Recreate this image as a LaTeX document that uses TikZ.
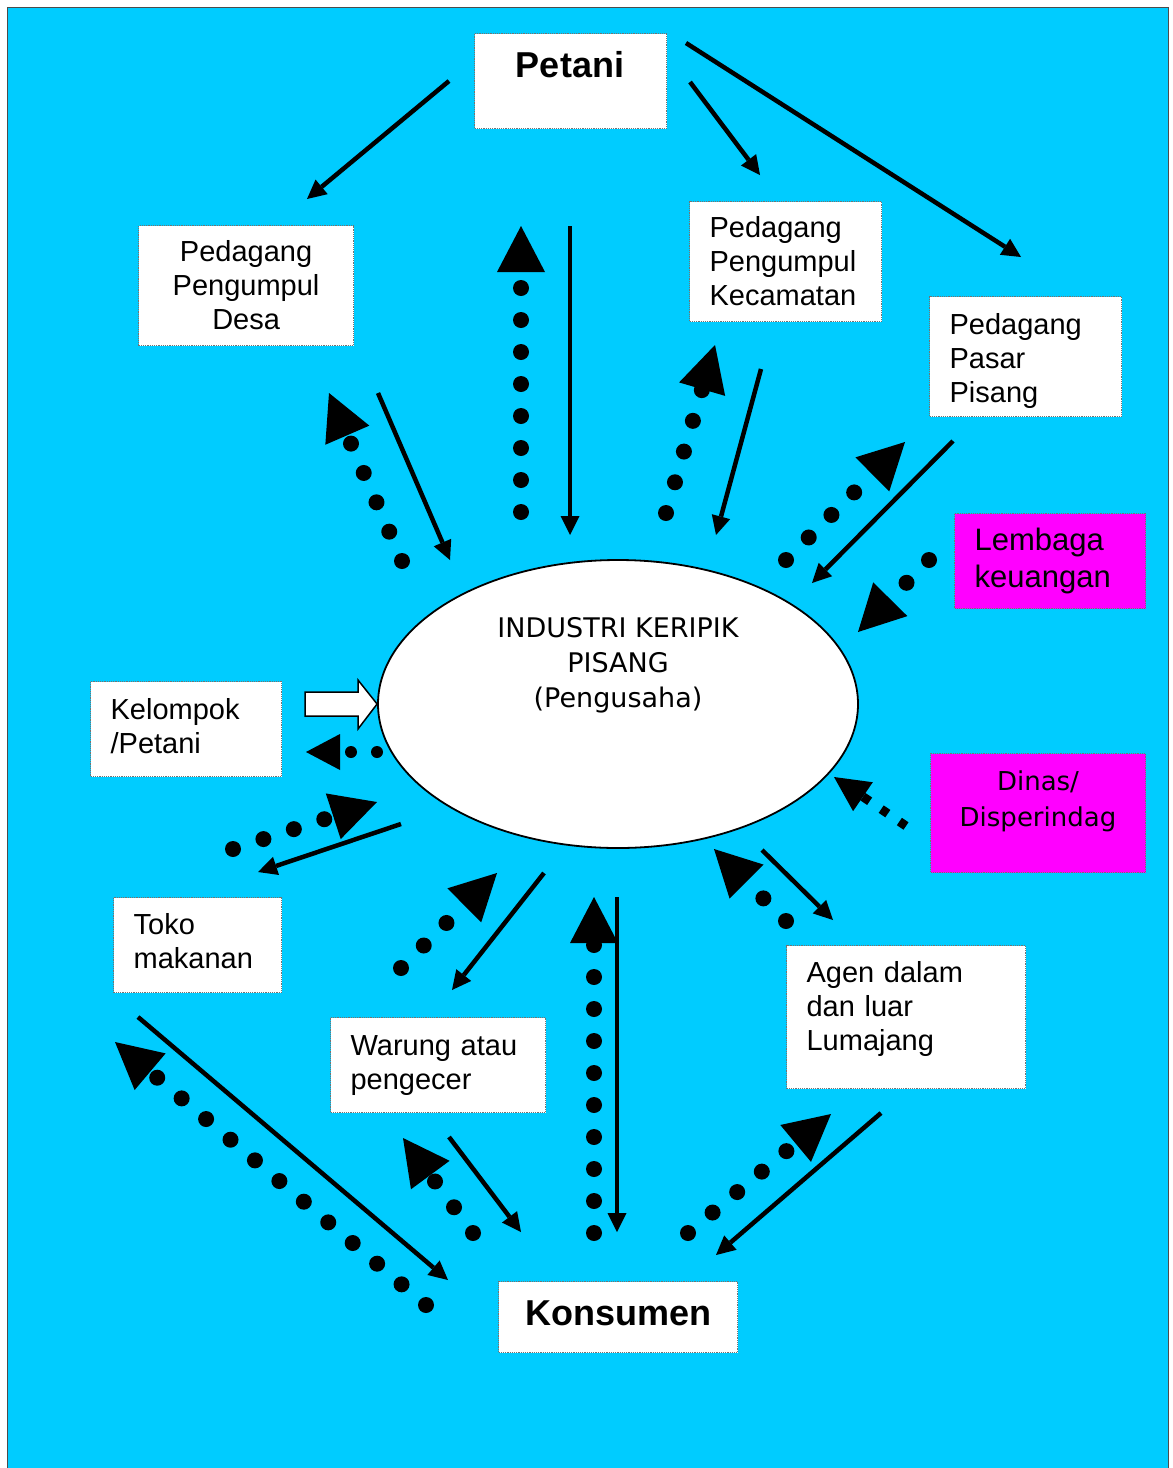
\documentclass[tikz,border=0pt]{standalone}
\usepackage{fontspec}
\setmainfont{Liberation Sans}
\newfontfamily\tahomafont{DejaVu Sans}
\usetikzlibrary{arrows.meta,shapes.geometric}
\definecolor{latarbiru}{HTML}{00CCFF}
\definecolor{ungu}{HTML}{FF00FF}

\begin{document}
\begin{tikzpicture}[x=1pt, y=-1pt,
        kotak/.style={draw=black!55, densely dotted, line width=1.2pt, fill=white, inner xsep=20pt, inner ysep=0pt, align=left, anchor=north west, font=\fontsize{29pt}{34pt}\selectfont},
        kotakungu/.style={kotak, fill=ungu},
        judul/.style={font=\bfseries\fontsize{36pt}{40pt}\selectfont, inner sep=0pt},
        panah/.style={line width=4.5pt, -{Triangle[length=19pt, width=19pt, line width=0pt]}},
        titik/.style={line width=16pt, line cap=round, dash pattern=on 0pt off 32pt, -{Triangle[length=46pt, width=48pt, line width=0pt]}},
        titikkecil/.style={line width=12pt, line cap=round, dash pattern=on 0pt off 26pt, -{Triangle[length=34pt, width=36pt, line width=0pt]}},
        putus/.style={line width=9pt, dash pattern=on 8pt off 14pt, -{Triangle[length=35pt, width=35pt, line width=0pt]}}]
                        \useasboundingbox (0,0) rectangle (1173,1468);
                        \fill[latarbiru] (7,7) rectangle (1168,1468);
                        \draw[black!70, line width=1pt] (7,1468) -- (7,7) -- (1168,7) -- (1168,1468);
                        
                        \node (petani) [kotak, text width=152pt, minimum height=95pt] at (474,33) {};
                        \node (petaniteks) [judul] at (570,65) {Petani};
                        \node (desa) [kotak, align=center, text width=175pt, minimum height=120pt] at (138,225) {Pedagang\\Pengumpul\\Desa};
                        \node (kecamatan) [kotak, text width=152pt, minimum height=120pt] at (689,201) {Pedagang\\Pengumpul\\Kecamatan};
                        \node (pasar) [kotak, text width=152pt, minimum height=120pt, text height=29pt] at (929,296) {Pedagang\\Pasar\\Pisang};
                        \node (lembaga) [kotakungu, text width=151pt, minimum height=95pt, font=\fontsize{31pt}{37pt}\selectfont] at (954,513) {Lembaga\\keuangan};
                        \node (dinas) [kotakungu, text width=175pt, minimum height=119pt] at (930,753) {};
                        \node (dinasteks) [font=\tahomafont\fontsize{26pt}{36pt}\selectfont, align=center, inner sep=0pt] at (1038,801) {Dinas/\\Disperindag};
                        \node (kelompok) [kotak, text width=151pt, minimum height=95pt, text height=15pt] at (90,681) {Kelompok\\/Petani};
                        \node (toko) [kotak, text width=128pt, minimum height=95pt, text height=13pt] at (113,897) {Toko\\makanan};
                        \node (warung) [kotak, text width=175pt, minimum height=95pt] at (330,1017) {Warung atau\\pengecer};
                        \node (agen) [kotak, text width=199pt, minimum height=143pt, text height=5pt] at (786,945) {Agen dalam\\dan luar\\Lumajang};
                        \node (konsumen) [kotak, align=center, text width=199pt, minimum height=71pt, text depth=8pt, font=\bfseries\fontsize{36pt}{40pt}\selectfont] at (498,1281) {Konsumen};
                        
                        \node (industri) [draw, ellipse, fill=white, line width=1.8pt, minimum width=480pt, minimum height=288pt] at (618,704) {};
                        \node (industriteks) [font=\tahomafont\fontsize{27pt}{35pt}\selectfont, align=center, inner sep=0pt] at (618,665) {INDUSTRI KERIPIK\\PISANG\\(Pengusaha)};
                        
                        \coordinate (pdA) at (449,81);   \coordinate (pdB) at (307,199);
                        \coordinate (pkA) at (690,82);   \coordinate (pkB) at (760,175);
                        \coordinate (ppA) at (686,43);   \coordinate (ppB) at (1021,257);
                        \coordinate (tsA) at (570,226);  \coordinate (tsB) at (570,535);
                        \coordinate (ttA) at (521,512);  \coordinate (ttB) at (521,226);
                        \coordinate (dsA) at (378,393);  \coordinate (dsB) at (450,560);
                        \coordinate (dtA) at (402,561);  \coordinate (dtB) at (329,393);
                        \coordinate (ksA) at (761,369);  \coordinate (ksB) at (716,535);
                        \coordinate (ktA) at (666,513);  \coordinate (ktB) at (715,345);
                        \coordinate (psA) at (953,441);  \coordinate (psB) at (812,583);
                        \coordinate (ptA) at (786,560);  \coordinate (ptB) at (905,442);
                        \coordinate (ltA) at (929,560);  \coordinate (ltB) at (858,632);
                        \coordinate (kdA) at (377,752);  \coordinate (kdB) at (306,752);
                        \coordinate (osA) at (401,824);  \coordinate (osB) at (258,872);
                        \coordinate (otA) at (233,849);  \coordinate (otB) at (377,802);
                        \coordinate (wsA) at (544,873);  \coordinate (wsB) at (452,990);
                        \coordinate (wtA) at (401,968);  \coordinate (wtB) at (497,873);
                        \coordinate (bsA) at (617,897);  \coordinate (bsB) at (617,1232);
                        \coordinate (btA) at (594,1233); \coordinate (btB) at (594,897);
                        \coordinate (asA) at (762,850);  \coordinate (asB) at (833,920);
                        \coordinate (atA) at (786,921);  \coordinate (atB) at (714,849);
                        \coordinate (diA) at (906,826);  \coordinate (diB) at (834,777);
                        \coordinate (okA) at (138,1017); \coordinate (okB) at (448,1280);
                        \coordinate (otkA) at (426,1305); \coordinate (otkB) at (115,1042);
                        \coordinate (wkA) at (449,1137); \coordinate (wkB) at (521,1232);
                        \coordinate (wtkA) at (473,1233); \coordinate (wtkB) at (403,1138);
                        \coordinate (akA) at (881,1113); \coordinate (akB) at (716,1255);
                        \coordinate (atkA) at (688,1233); \coordinate (atkB) at (831,1114);
                        
                        \draw[panah] (pdA) -- (pdB);
                        \draw[panah] (pkA) -- (pkB);
                        \draw[panah] (ppA) -- (ppB);
                        \draw[panah] (tsA) -- (tsB);
                        \draw[titik] (ttA) -- (ttB);
                        \draw[panah] (dsA) -- (dsB);
                        \draw[titik] (dtA) -- (dtB);
                        \draw[panah] (ksA) -- (ksB);
                        \draw[titik] (ktA) -- (ktB);
                        \draw[panah] (psA) -- (psB);
                        \draw[titik] (ptA) -- (ptB);
                        \draw[titik] (ltA) -- (ltB);
                        
                        \draw[line width=1.5pt, fill=white, line join=miter] (305,692) -- (358,692) -- (358,680) -- (industri.west) -- (358,729) -- (358,716) -- (305,716) -- cycle;
                        \draw[titikkecil] (kdA) -- (kdB);
                        \draw[panah] (osA) -- (osB);
                        \draw[titik] (otA) -- (otB);
                        \draw[panah] (wsA) -- (wsB);
                        \draw[titik] (wtA) -- (wtB);
                        \draw[panah] (bsA) -- (bsB);
                        \draw[titik] (btA) -- (btB);
                        \draw[panah] (asA) -- (asB);
                        \draw[titik] (atA) -- (atB);
                        \draw[putus] (diA) -- (diB);
                        
                        \draw[panah] (okA) -- (okB);
                        \draw[titik] (otkA) -- (otkB);
                        \draw[panah] (wkA) -- (wkB);
                        \draw[titik] (wtkA) -- (wtkB);
                        \draw[panah] (akA) -- (akB);
                        \draw[titik] (atkA) -- (atkB);
\end{tikzpicture}
\end{document}
